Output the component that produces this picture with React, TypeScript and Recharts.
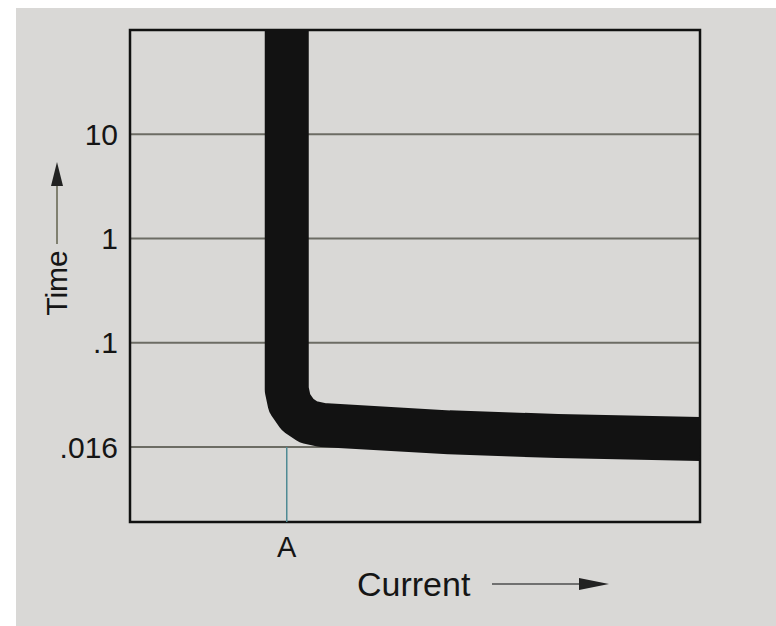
import {
    LineChart,
    Line,
    XAxis,
    YAxis,
    CartesianGrid,
    ReferenceLine,
    ReferenceArea
} from 'recharts'

// band centre line (time in grid steps above the .016 line)
const currentValues = [27.5, 27.5, 28, 29.4, 31.3, 33.7, 56, 75, 100]
const timeValues = [4, 0.55, 0.42, 0.31, 0.24, 0.21, 0.14, 0.105, 0.077]

const timeTicks = [0, 1, 2, 3]
const timeTickLabels = ['.016', '.1', '1', '10']
const currentTicks = [27.5]
const currentTickLabels = ['A']

const data = currentValues.map((c, i) => ({ current: c, time: timeValues[i] }))

const FONT = '"Liberation Sans", Arial, Helvetica, sans-serif'
const INK = '#151515'

const CurrentLabel = ({ viewBox }: any) => {
    const { x, y } = viewBox
    return (
        <g>
            <text x={x + 227} y={y + 74} fontSize={34} fill={INK} fontFamily={FONT}>Current</text>
            <line x1={x + 362} x2={x + 452} y1={y + 62} y2={y + 62} stroke="#707070" strokeWidth={2} />
            <polygon points={`${x + 479},${y + 62} ${x + 449},${y + 56} ${x + 449},${y + 68}`} fill="#222" />
        </g>
    )
}

const TimeLabel = ({ viewBox }: any) => {
    const { x, y } = viewBox
    const tx = x - 3
    const ty = y + 253
    return (
        <g>
            <text
                x={tx}
                y={ty}
                fontSize={30}
                fill={INK}
                fontFamily={FONT}
                textAnchor="middle"
                transform={`rotate(-90 ${tx} ${ty})`}
            >
                Time
            </text>
            <line x1={x - 13} x2={x - 13} y1={y + 214} y2={y + 153} stroke="#808070" strokeWidth={2} />
            <polygon points={`${x - 13},${y + 132} ${x - 19},${y + 156} ${x - 7},${y + 156}`} fill="#222" />
        </g>
    )
}

export default function App() {
    return (
        <div
            style={{
                position: 'fixed',
                left: 16,
                top: 8,
                width: 760,
                height: 618,
                background: '#d9d8d6'
            }}
        >
            <LineChart
                width={760}
                height={618}
                data={data}
                margin={{ top: 22, right: 76, bottom: 74, left: 54 }}
            >
                <CartesianGrid horizontal vertical={false} stroke="#6c6c64" strokeWidth={2} />
                <XAxis
                    dataKey="current"
                    type="number"
                    scale="linear"
                    domain={[0, 100]}
                    allowDataOverflow
                    ticks={currentTicks}
                    tickFormatter={(v, i) => currentTickLabels[i] ?? ''}
                    axisLine={false}
                    tickLine={false}
                    tickSize={0}
                    tickMargin={14}
                    height={30}
                    tick={{ fill: INK, fontSize: 29, fontFamily: FONT }}
                    label={{ content: CurrentLabel }}
                />
                <YAxis
                    type="number"
                    scale="linear"
                    domain={[-0.72, 4]}
                    allowDataOverflow
                    ticks={timeTicks}
                    tickFormatter={(v, i) => timeTickLabels[i] ?? ''}
                    axisLine={false}
                    tickLine={false}
                    tickSize={0}
                    tickMargin={12}
                    width={60}
                    tick={{ fill: INK, fontSize: 30, fontFamily: FONT }}
                    label={{ content: TimeLabel }}
                />
                <ReferenceLine
                    segment={[{ x: currentTicks[0], y: -0.72 }, { x: currentTicks[0], y: 0 }]}
                    stroke="#4f8a94"
                    strokeWidth={1.5}
                />
                <Line
                    type="linear"
                    dataKey="time"
                    stroke="#121212"
                    strokeWidth={44}
                    strokeLinejoin="round"
                    strokeLinecap="butt"
                    dot={false}
                    activeDot={false}
                    isAnimationActive={false}
                />
                <ReferenceArea
                    x1={0}
                    x2={100}
                    y1={-0.72}
                    y2={4}
                    fill="none"
                    fillOpacity={0}
                    stroke="#111"
                    strokeWidth={2.5}
                />
            </LineChart>
        </div>
    )
}
